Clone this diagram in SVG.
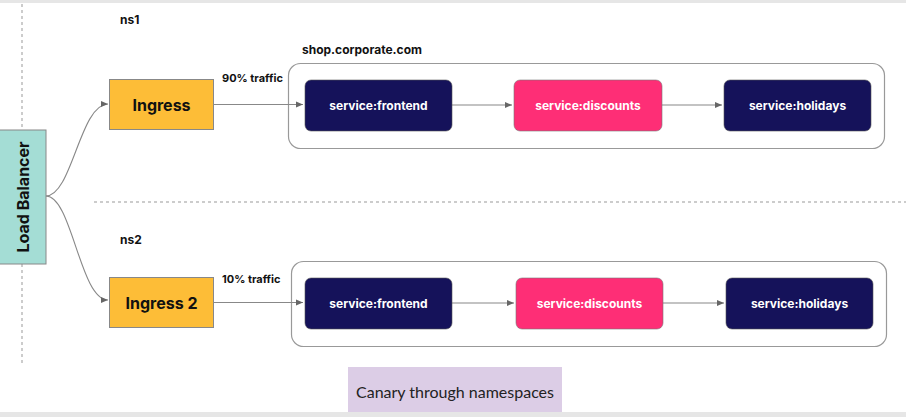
<svg xmlns="http://www.w3.org/2000/svg" width="906" height="417" viewBox="0 0 906 417">
<defs>
<marker id="arr" markerWidth="8" markerHeight="8" refX="7" refY="4" orient="auto" markerUnits="userSpaceOnUse">
<path d="M0,1 L7,4 L0,7 Z" fill="#666"/>
</marker>
<style>
.lbl{font-family:Inter,"Open Sans","Liberation Sans",sans-serif;font-weight:700;fill:#111}
.svc{font-family:Inter,"Open Sans","Liberation Sans",sans-serif;font-weight:700;font-size:12px;fill:#fff;text-anchor:middle;dominant-baseline:central}
.navy{fill:#15125a;stroke:#555;stroke-width:0.6}
.pink{fill:#fe2e76;stroke:#777;stroke-width:0.6}
.ing{fill:#fdbd37;stroke:#888;stroke-width:1}
.cont{fill:#fff;stroke:#999;stroke-width:1.2}
.conn{fill:none;stroke:#888;stroke-width:1.1;marker-end:url(#arr)}
.dash{stroke:#999;stroke-width:1;stroke-dasharray:3,3;fill:none}
</style>
</defs>
<rect x="0" y="0" width="906" height="417" fill="#fff"/>
<rect x="0" y="0" width="906" height="3" fill="#e6e6e6"/>
<rect x="0" y="412" width="906" height="5" fill="#e6e6e6"/>

<g id="guides">
<line class="dash" x1="22" y1="4" x2="22" y2="130"/>
<line class="dash" x1="22" y1="264" x2="22" y2="364"/>
<line class="dash" x1="94" y1="202" x2="906" y2="202"/>
</g>

<g id="containers">
<rect class="cont" x="288.5" y="63.5" width="596" height="85" rx="12"/>
<rect class="cont" x="291.5" y="261.5" width="595" height="85" rx="12"/>
</g>

<g id="labels">
<text class="lbl" x="120" y="24" font-size="12">ns1</text>
<text class="lbl" x="120" y="244" font-size="12">ns2</text>
<text class="lbl" x="302" y="54" font-size="12">shop.corporate.com</text>
<text class="lbl" x="222" y="82" font-size="11">90% traffic</text>
<text class="lbl" x="222" y="283" font-size="11">10% traffic</text>
</g>

<g id="connectors">
<path class="conn" d="M46,196 C72,196 80,104 108,104"/>
<path class="conn" d="M46,196 C72,196 80,300 108,300"/>
<path class="conn" d="M214,104.5 L303,104.5"/>
<path class="conn" d="M214,302.5 L303,302.5"/>
<path class="conn" d="M452,105 L512,105"/>
<path class="conn" d="M662,105 L722,105"/>
<path class="conn" d="M452,303 L514,303"/>
<path class="conn" d="M663,303 L724,303"/>
</g>

<g id="loadbalancer">
<rect x="-1" y="130" width="47" height="134" fill="#a4ddd5" stroke="#888" stroke-width="1"/>
<text class="lbl" font-size="16" text-anchor="middle" dominant-baseline="central" transform="translate(23,197) rotate(-90)">Load Balancer</text>
</g>

<g id="ingress">
<rect class="ing" x="109.5" y="79.5" width="104" height="50"/>
<text class="lbl" x="161.5" y="104.5" font-size="16" text-anchor="middle" dominant-baseline="central">Ingress</text>
</g>
<g id="ingress2">
<rect class="ing" x="109.5" y="277.5" width="104" height="50"/>
<text class="lbl" x="161.5" y="302.5" font-size="16" text-anchor="middle" dominant-baseline="central">Ingress 2</text>
</g>

<g id="frontend1">
<rect class="navy" x="305" y="80" width="147" height="51" rx="6"/>
<text class="svc" x="378.5" y="105.5">service:frontend</text>
</g>
<g id="discounts1">
<rect class="pink" x="514" y="80" width="148" height="51" rx="6"/>
<text class="svc" x="588" y="105.5">service:discounts</text>
</g>
<g id="holidays1">
<rect class="navy" x="724" y="80" width="147" height="51" rx="6"/>
<text class="svc" x="797.5" y="105.5">service:holidays</text>
</g>

<g id="frontend2">
<rect class="navy" x="305" y="278" width="147" height="51" rx="6"/>
<text class="svc" x="378.5" y="303.5">service:frontend</text>
</g>
<g id="discounts2">
<rect class="pink" x="516" y="278" width="147" height="51" rx="6"/>
<text class="svc" x="589.5" y="303.5">service:discounts</text>
</g>
<g id="holidays2">
<rect class="navy" x="726" y="278" width="147" height="51" rx="6"/>
<text class="svc" x="799.5" y="303.5">service:holidays</text>
</g>

<g id="caption">
<rect x="348" y="367" width="214" height="45" fill="#dccde6"/>
<text x="455" y="391" font-family="Lato,'Liberation Sans',sans-serif" font-size="16" fill="#222" text-anchor="middle" dominant-baseline="central">Canary through namespaces</text>
</g>
</svg>
